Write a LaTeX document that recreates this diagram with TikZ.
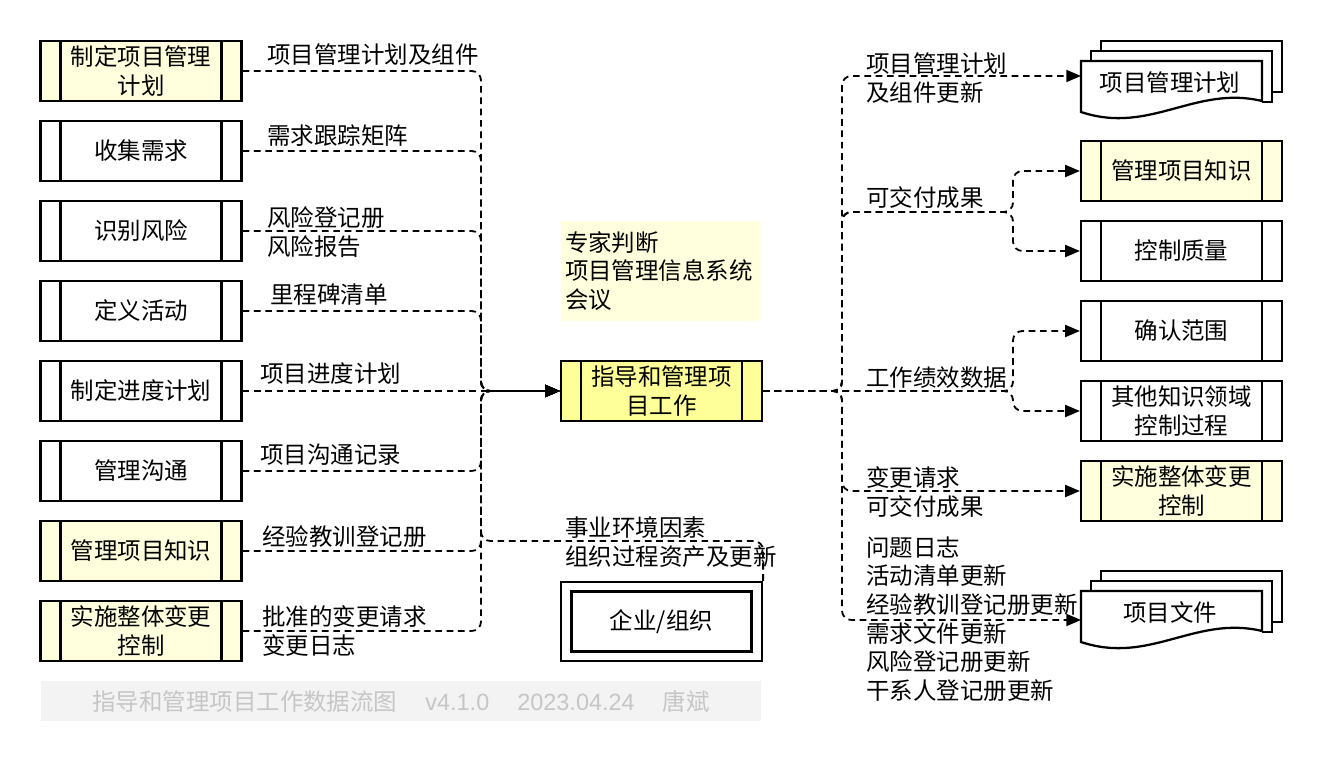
\documentclass[tikz,border=0pt]{standalone}
\usepackage{fontspec}
\setmainfont{Noto Sans CJK SC}
\newfontfamily\latinfont{Liberation Sans}
\usepackage{tikz}
\usetikzlibrary{arrows.meta}
\definecolor{ink}{HTML}{000000}
\definecolor{kafill}{HTML}{FFFFDD}
\definecolor{curfill}{HTML}{FFFF99}
\definecolor{toolfill}{HTML}{FFFFDD}
\definecolor{footfill}{HTML}{F3F3F3}
\definecolor{foottext}{HTML}{C6C6C6}
\newcommand{\cjksize}{\fontsize{17.6pt}{21.5pt}\selectfont}
% stacked document: name, left x and top y of the front sheet, text
\newcommand{\docstack}[4]{%
  \draw[sheet] ({#2+191},{#3+31}) -- ({#2+201},{#3+31}) -- ({#2+201},{#3-20}) -- ({#2+20},{#3-20}) -- ({#2+20},{#3-10});
  \draw[sheet] ({#2+181},{#3+41}) -- ({#2+191},{#3+41}) -- ({#2+191},{#3-10}) -- ({#2+10},{#3-10}) -- ({#2+10},{#3});
  \filldraw[sheet] (#2,#3) -- ({#2+181},#3) -- ({#2+181},{#3+40})
    .. controls ({#2+114},{#3+24}) and ({#2+69},{#3+74}) .. (#2,{#3+51}) -- cycle;
  \node[inner sep=0pt] (#1) at ({#2+89},{#3+22}) {#4};}
\tikzset{
  proc/.style={draw=ink,fill=white,line width=1.7pt,minimum width=150.75pt,minimum height=45pt,
    inner sep=0pt,align=center,
    path picture={\draw[line width=1.7pt]
      ([xshift=15pt]path picture bounding box.north west) -- ([xshift=15pt]path picture bounding box.south west)
      ([xshift=-15pt]path picture bounding box.north east) -- ([xshift=-15pt]path picture bounding box.south east);}},
  kap/.style={proc,fill=kafill},
  cur/.style={proc,fill=curfill},
  tool/.style={fill=toolfill,minimum width=150pt,minimum height=75pt,text width=144pt,inner sep=3pt,align=left},
  org/.style={draw=ink,line width=1.7pt,minimum width=150.75pt,minimum height=59.25pt,inner sep=0pt},
  orgin/.style={draw=ink,line width=1.7pt,minimum width=135pt,minimum height=45pt,inner sep=0pt},
  sheet/.style={draw=ink,fill=white,line width=1.7pt},
  flow/.style={draw=ink,line width=1.35pt,dash pattern=on 5pt off 3.5pt,rounded corners=7pt,
    -{Triangle[length=11pt,width=9pt]}},
  lbl/.style={anchor=west,align=left,inner sep=0pt},
  foot/.style={fill=footfill,text=foottext,minimum width=540pt,minimum height=30pt,inner sep=0pt}
}
\begin{document}
\begin{tikzpicture}[x=0.75pt,y=-0.75pt,every node/.style={font=\cjksize}]
  \useasboundingbox (0,0) rectangle (1322,762);
  % processes feeding the inputs
  \node[kap]  (pmp)   at (141,71)  {制定项目管理\\计划};
  \node[proc] (req)   at (141,151) {收集需求};
  \node[proc] (risk)  at (141,231) {识别风险};
  \node[proc] (act)   at (141,311) {定义活动};
  \node[proc] (sched) at (141,391) {制定进度计划};
  \node[proc] (comm)  at (141,471) {管理沟通};
  \node[kap]  (know)  at (141,551) {管理项目知识};
  \node[kap]  (icc)   at (141,631) {实施整体变更\\控制};
  % the process, its tools and the organisation
  \node[tool] (tt)  at (661,271)   {专家判断\\项目管理信息系统\\会议};
  \node[cur]  (dmp) at (661.5,391) {指导和管理项\\目工作};
  \node[org]   (ent)  at (661.5,621.5) {};
  \node[orgin] (entn) at (ent)         {企业/组织};
  % receivers of the outputs
  \docstack{pmpdoc}{1081}{61}{项目管理计划}
  \node[kap]  (mpk)  at (1181.5,171) {管理项目知识};
  \node[proc] (qc)   at (1181.5,251) {控制质量};
  \node[proc] (vs)   at (1181.5,331) {确认范围};
  \node[proc] (okc)  at (1181.5,411) {其他知识领域\\控制过程};
  \node[kap]  (icco) at (1181.5,491) {实施整体变更\\控制};
  \docstack{pdoc}{1081}{591}{项目文件}
  % bend points
  \coordinate (lbus)     at (481,391);
  \coordinate (eefbend)  at (481,541);
  \coordinate (rbus)     at (842,391);
  \coordinate (delsplit) at (1013,212);
  \coordinate (wpdsplit) at (1013,391);
  \coordinate (pmpin)    at (1081,76);
  \coordinate (pdin)     at (1081,620);
  % inputs
  \foreach \n in {pmp,req,risk,act,comm,know,icc}{%
    \draw[flow] (\n.east) -| (lbus) -- (dmp.west);}
  \draw[flow] (sched.east) -- (dmp.west);
  \draw[flow] (ent.north east) |- (eefbend) -- (lbus) -- (dmp.west);
  % outputs
  \draw[flow] (dmp.east) -- (rbus) |- (pmpin);
  \foreach \n in {mpk,qc}{%
    \draw[flow] (dmp.east) -- (rbus) |- (delsplit) |- (\n.west);}
  \foreach \n in {vs,okc}{%
    \draw[flow] (dmp.east) -- (wpdsplit) |- (\n.west);}
  \draw[flow] (dmp.east) -- (rbus) |- (icco.west);
  \draw[flow] (dmp.east) -- (rbus) |- (pdin);
  % input labels
  \node[lbl] (lpmp)   at (267,55)  {项目管理计划及组件};
  \node[lbl] (lreq)   at (267,136) {需求跟踪矩阵};
  \node[lbl] (lrisk)  at (267,232) {风险登记册\\风险报告};
  \node[lbl] (lact)   at (270,295) {里程碑清单};
  \node[lbl] (lsched) at (260,374) {项目进度计划};
  \node[lbl] (lcomm)  at (260,455) {项目沟通记录};
  \node[lbl] (lknow)  at (262,537) {经验教训登记册};
  \node[lbl] (licc)   at (262,631) {批准的变更请求\\变更日志};
  \node[lbl] (lent)   at (565,542) {事业环境因素\\组织过程资产及更新};
  % output labels
  \node[lbl] (lpmpo) at (866,78)  {项目管理计划\\及组件更新};
  \node[lbl] (ldel)  at (866,198) {可交付成果};
  \node[lbl] (lwpd)  at (866,378) {工作绩效数据};
  \node[lbl] (lcr)   at (866,492) {变更请求\\可交付成果};
  \node[lbl] (lpd)   at (866,619) {问题日志\\活动清单更新\\经验教训登记册更新\\需求文件更新\\风险登记册更新\\干系人登记册更新};
  % footer
  \node[foot] (ft) at (401,701) {指导和管理项目工作数据流图\hspace{21pt}{\latinfont v4.1.0}\hspace{21pt}{\latinfont 2023.04.24}\hspace{21pt}唐斌};
\end{tikzpicture}
\end{document}
